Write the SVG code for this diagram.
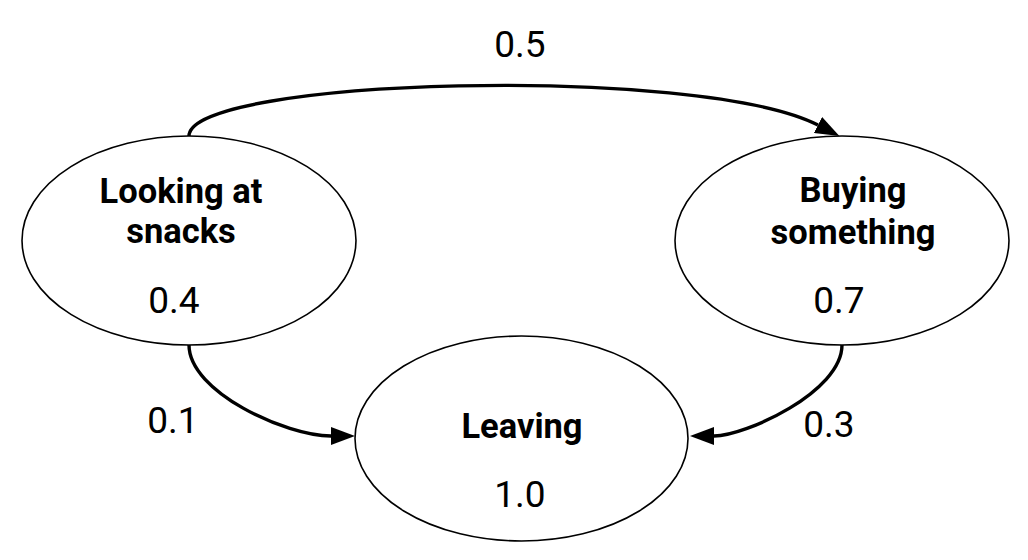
<svg xmlns="http://www.w3.org/2000/svg" width="1028" height="560" viewBox="0 0 1028 560">
  <style>
    .node { fill: #ffffff; stroke: #000000; stroke-width: 1.6; }
    .title { font-family: Roboto, "Liberation Sans", sans-serif; font-weight: bold; font-size: 34.5px; fill: #000000; text-anchor: middle; }
    .num { font-family: Roboto, "Liberation Sans", sans-serif; font-size: 37px; fill: #000000; text-anchor: middle; }
    .edge { fill: none; stroke: #000000; stroke-width: 3.4; }
  </style>
  <defs>
    <marker id="arrow" viewBox="0 0 24 18" refX="0" refY="9" markerWidth="24" markerHeight="18" markerUnits="userSpaceOnUse" orient="auto">
      <path d="M0,0 L24,9 L0,18 Z" fill="#000000"/>
    </marker>
  </defs>
  <rect width="1028" height="560" fill="#ffffff"/>
  <g id="connectors">
    <path class="edge" d="M189,136 C189,78 698,64 818,125" marker-end="url(#arrow)"/>
    <path class="edge" d="M189,345 C189,392 286,436 331,436" marker-end="url(#arrow)"/>
    <path class="edge" d="M842,345 C842,392 745,436 714,436" marker-end="url(#arrow)"/>
    <text class="num" x="520" y="57">0.5</text>
    <text class="num" x="173" y="433">0.1</text>
    <text class="num" x="829" y="437">0.3</text>
  </g>
  <g id="node-looking">
    <ellipse class="node" cx="189" cy="240.5" rx="167" ry="104.5"/>
    <text class="title" x="181" y="203">Looking at</text>
    <text class="title" x="181" y="243">snacks</text>
    <text class="num" x="174" y="313">0.4</text>
  </g>
  <g id="node-buying">
    <ellipse class="node" cx="842" cy="240.5" rx="167" ry="104.5"/>
    <text class="title" x="853" y="202">Buying</text>
    <text class="title" x="853" y="244">something</text>
    <text class="num" x="839" y="313">0.7</text>
  </g>
  <g id="node-leaving">
    <ellipse class="node" cx="521.5" cy="438.5" rx="166.5" ry="102.5"/>
    <text class="title" x="522" y="438">Leaving</text>
    <text class="num" x="520" y="507">1.0</text>
  </g>
</svg>
